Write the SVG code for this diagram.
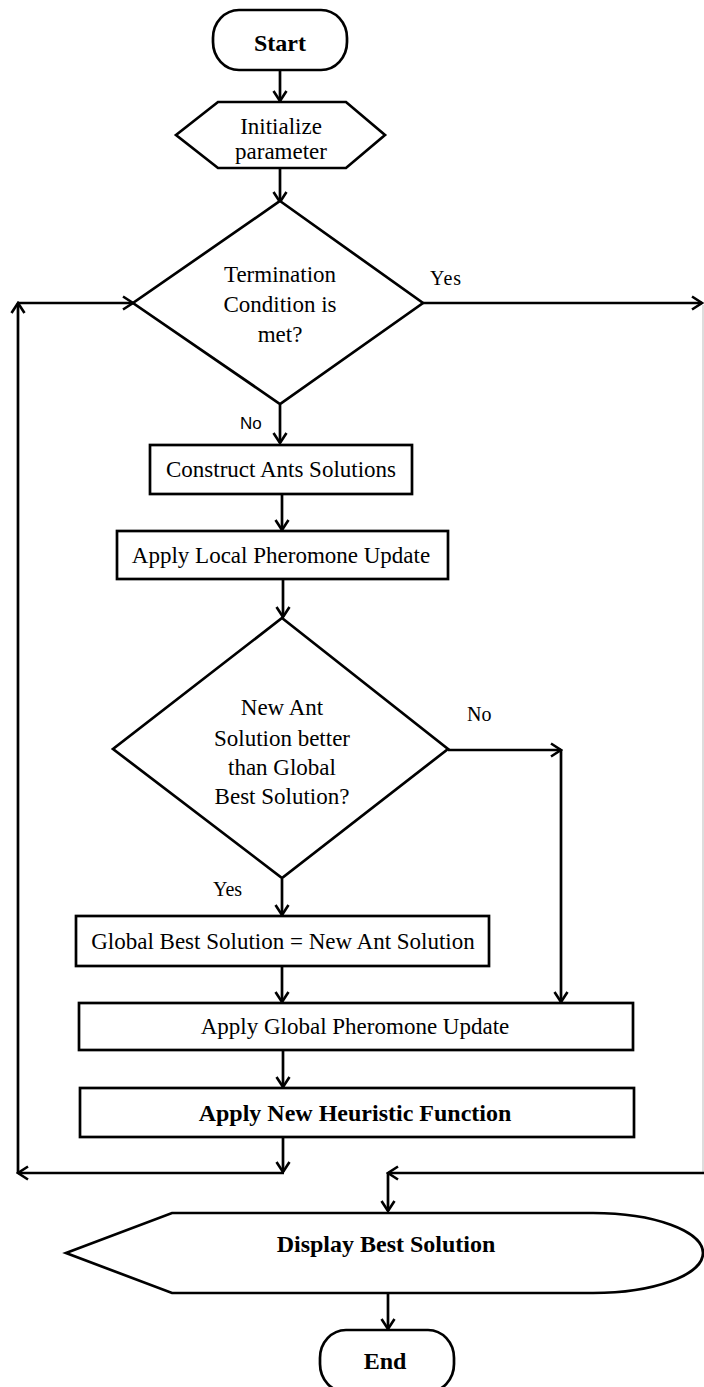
<svg xmlns="http://www.w3.org/2000/svg" width="704" height="1387" viewBox="0 0 704 1387">
<style>
.s{fill:#fff;stroke:#000;stroke-width:2.7}
.t{font-family:"Liberation Serif","Times New Roman",serif;font-size:23px;fill:#000;text-anchor:middle}
.b{font-weight:bold;font-size:24px}
.c{fill:none;stroke:#000;stroke-width:2.7}
.lbl{font-family:"Liberation Serif","Times New Roman",serif;font-size:20px;fill:#000}
.sans{font-family:"Liberation Sans",Arial,sans-serif;font-size:17px;fill:#000}
</style>
<defs>
<marker id="a" markerUnits="userSpaceOnUse" markerWidth="14" markerHeight="16" viewBox="0 0 14 16" refX="12" refY="8" orient="auto">
<path d="M2,1.5 L12,8 L2,14.5" fill="none" stroke="#000" stroke-width="2.6"/>
</marker>
</defs>
<rect width="704" height="1387" fill="#fff"/>
<g id="connectors">
<line class="c" x1="280" y1="70" x2="280" y2="101" marker-end="url(#a)"/>
<line class="c" x1="280" y1="168" x2="280" y2="202" marker-end="url(#a)"/>
<line class="c" x1="423" y1="303" x2="702" y2="303" marker-end="url(#a)"/>
<line x1="703" y1="305" x2="703" y2="1172" stroke="#bbb" stroke-width="1"/>
<line class="c" x1="280" y1="405" x2="280" y2="443" marker-end="url(#a)"/>
<line class="c" x1="282" y1="494" x2="282" y2="530" marker-end="url(#a)"/>
<line class="c" x1="283" y1="580" x2="283" y2="617" marker-end="url(#a)"/>
<line class="c" x1="448" y1="750" x2="561" y2="750" marker-end="url(#a)"/>
<line class="c" x1="561" y1="750" x2="561" y2="1002" marker-end="url(#a)"/>
<line class="c" x1="282" y1="879" x2="282" y2="915" marker-end="url(#a)"/>
<line class="c" x1="282" y1="966" x2="282" y2="1002" marker-end="url(#a)"/>
<line class="c" x1="283" y1="1050" x2="283" y2="1087" marker-end="url(#a)"/>
<line class="c" x1="283" y1="1137" x2="283" y2="1172" marker-end="url(#a)"/>
<line class="c" x1="284" y1="1173" x2="18" y2="1173" marker-end="url(#a)"/>
<line class="c" x1="18" y1="1173" x2="18" y2="303" marker-end="url(#a)"/>
<line class="c" x1="18" y1="303" x2="133" y2="303" marker-end="url(#a)"/>
<line class="c" x1="704" y1="1173" x2="388" y2="1173" marker-end="url(#a)"/>
<line class="c" x1="388" y1="1173" x2="388" y2="1211" marker-end="url(#a)"/>
<line class="c" x1="388" y1="1293" x2="388" y2="1329" marker-end="url(#a)"/>
<text class="lbl" x="430" y="285" letter-spacing="1">Yes</text>
<text class="sans" x="240" y="429">No</text>
<text class="lbl" x="467" y="721">No</text>
<text class="lbl" x="213" y="896">Yes</text>
</g>
<g id="start">
<rect class="s" x="213" y="10" width="134" height="60" rx="26" ry="28"/>
<text class="t b" x="280" y="51">Start</text>
</g>
<g id="init">
<polygon class="s" points="176,135 218,102 346,102 385,135 346,168 218,168"/>
<text class="t" x="281" y="134">Initialize</text>
<text class="t" x="281" y="159">parameter</text>
</g>
<g id="termination">
<polygon class="s" points="280,201 423,303 280,404 133,303"/>
<text class="t" x="280" y="282">Termination</text>
<text class="t" x="280" y="312">Condition is</text>
<text class="t" x="280" y="342">met?</text>
</g>
<g id="construct">
<rect class="s" x="150" y="445" width="262" height="49"/>
<text class="t" x="281" y="477">Construct Ants Solutions</text>
</g>
<g id="localupdate">
<rect class="s" x="117" y="531" width="331" height="48"/>
<text class="t" x="281" y="563">Apply Local Pheromone Update</text>
</g>
<g id="better">
<polygon class="s" points="282,618 448,749 282,878 113,749"/>
<text class="t" x="282" y="715">New Ant</text>
<text class="t" x="282" y="746">Solution better</text>
<text class="t" x="282" y="775">than Global</text>
<text class="t" x="282" y="804">Best Solution?</text>
</g>
<g id="globalbest">
<rect class="s" x="76" y="916" width="413" height="50"/>
<text class="t" x="283" y="949">Global Best Solution = New Ant Solution</text>
</g>
<g id="globalupdate">
<rect class="s" x="79" y="1003" width="554" height="47"/>
<text class="t" x="355" y="1034">Apply Global Pheromone Update</text>
</g>
<g id="heuristic">
<rect class="s" x="80" y="1088" width="554" height="49"/>
<text class="t b" x="355" y="1121">Apply New Heuristic Function</text>
</g>
<g id="display">
<path class="s" d="M66,1253 L172,1213 L593,1213 A110,40 0 0 1 593,1293 L172,1293 Z"/>
<text class="t b" x="386" y="1252">Display Best Solution</text>
</g>
<g id="end">
<rect class="s" x="320" y="1330" width="134" height="62" rx="26" ry="28"/>
<text class="t b" x="385" y="1369">End</text>
</g>
</svg>
